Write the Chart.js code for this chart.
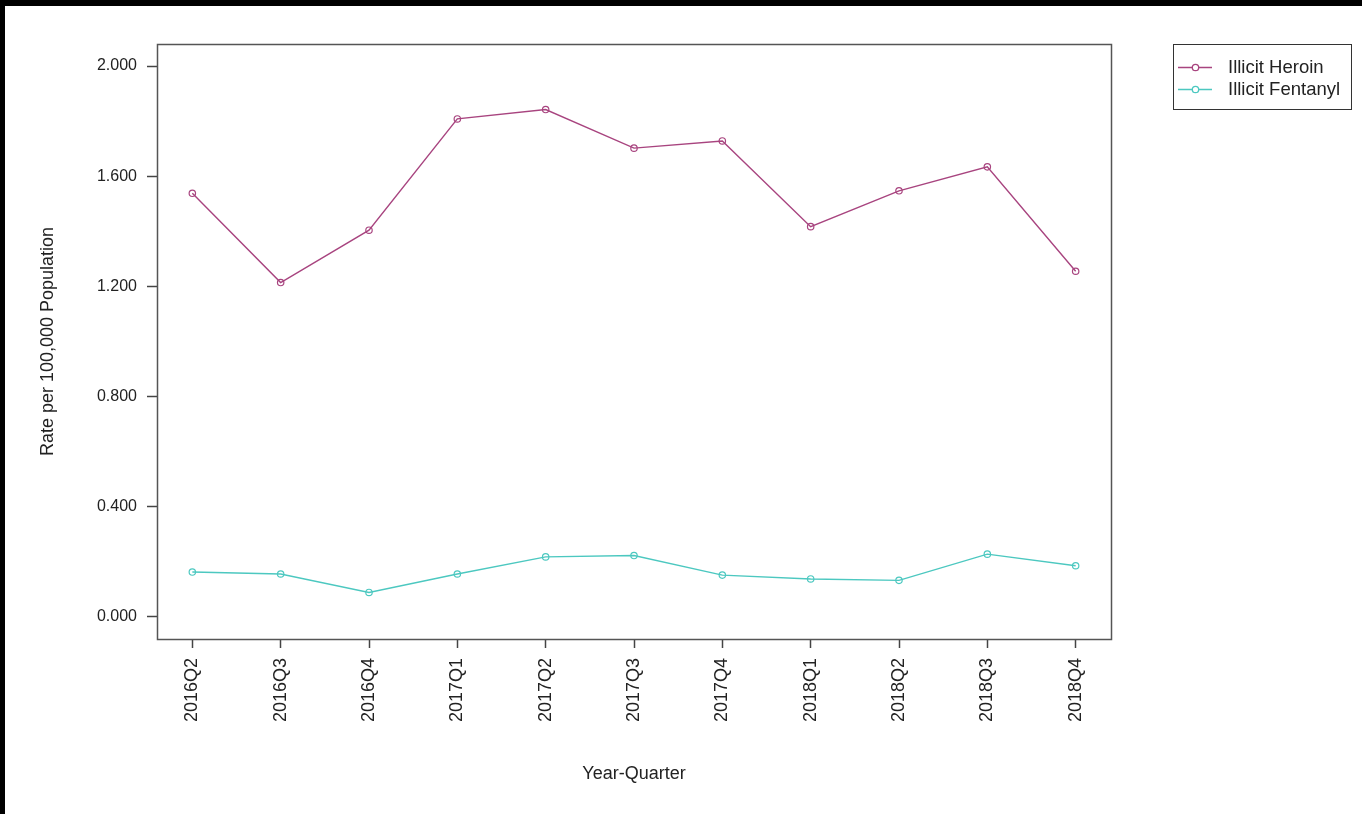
<!DOCTYPE html>
<html>
<head>
<meta charset="utf-8">
<script src="https://cdn.jsdelivr.net/npm/chart.js@4"></script>
<style>
  html, body { margin: 0; padding: 0; background: #fff; }
  #wrap { position: absolute; left: 0; top: 0; width: 1362px; height: 814px; }
</style>
</head>
<body>
<div id="wrap"><canvas id="c" width="1362" height="814"></canvas></div>
<script>
// ---- data ----
const categories = ["2016Q2","2016Q3","2016Q4","2017Q1","2017Q2","2017Q3","2017Q4","2018Q1","2018Q2","2018Q3","2018Q4"];
const heroin   = [1.538, 1.214, 1.404, 1.808, 1.842, 1.702, 1.728, 1.417, 1.547, 1.634, 1.255];
const fentanyl = [0.163, 0.156, 0.089, 0.156, 0.218, 0.223, 0.152, 0.138, 0.133, 0.228, 0.186];
const yTicks   = [0, 0.4, 0.8, 1.2, 1.6, 2.0];
const seriesNames = ["Illicit Heroin", "Illicit Fentanyl"];

const heroinColor = '#a8447f';
const fentColor = '#4cc8c0';
const FONT = '"Liberation Sans", Arial, sans-serif';

const toXY = arr => arr.map((v, i) => ({x: i, y: v}));

const framePlugin = {
  id: 'frame',
  beforeDraw(chart) {
    const ctx = chart.ctx;
    ctx.save();
    ctx.fillStyle = '#fff';
    ctx.fillRect(0, 0, chart.width, chart.height);
    ctx.fillStyle = '#000';
    ctx.fillRect(0, 0, chart.width, 6);
    ctx.fillRect(0, 0, 5, chart.height);
    ctx.restore();
  },
  afterDraw(chart) {
    const ctx = chart.ctx;
    const a = chart.chartArea;
    ctx.save();
    ctx.strokeStyle = '#555';
    ctx.lineWidth = 1.5;
    ctx.strokeRect(Math.round(a.left) + 0.5, Math.round(a.top) + 0.5, Math.round(a.right - a.left), Math.round(a.bottom - a.top));
    // legend
    const lx = 1173, ly = 44, lw = 178, lh = 65;
    ctx.strokeStyle = '#333';
    ctx.lineWidth = 1;
    ctx.strokeRect(lx + 0.5, ly + 0.5, lw, lh);
    const rows = [ly + 24, ly + 46];
    const cols = [heroinColor, fentColor];
    chart.data.datasets.forEach((ds, i) => {
      const y = rows[i] - 0.5;
      ctx.strokeStyle = cols[i];
      ctx.lineWidth = 1.3;
      ctx.beginPath();
      ctx.moveTo(1178, y); ctx.lineTo(1212, y);
      ctx.stroke();
      ctx.fillStyle = '#fff';
      ctx.beginPath();
      ctx.arc(1195.5, y, 3.2, 0, Math.PI * 2);
      ctx.fill();
      ctx.stroke();
      ctx.fillStyle = '#222';
      ctx.font = '18.5px ' + FONT;
      ctx.textBaseline = 'middle';
      ctx.textAlign = 'left';
      ctx.fillText(ds.label, 1228, rows[i]);
    });
    ctx.restore();
  }
};

new Chart(document.getElementById('c'), {
  type: 'line',
  data: {
    datasets: [
      { label: seriesNames[0], data: toXY(heroin), borderColor: heroinColor, backgroundColor: '#fff',
        borderWidth: 1.4, pointRadius: 3.2, pointBorderWidth: 1.2, pointBackgroundColor: 'rgba(255,255,255,0)', tension: 0 },
      { label: seriesNames[1], data: toXY(fentanyl), borderColor: fentColor, backgroundColor: '#fff',
        borderWidth: 1.4, pointRadius: 3.2, pointBorderWidth: 1.2, pointBackgroundColor: 'rgba(255,255,255,0)', tension: 0 }
    ]
  },
  options: {
    responsive: false,
    animation: false,
    devicePixelRatio: 1,
    layout: { padding: { left: 0, top: 44, right: 251, bottom: 0 } },
    plugins: { legend: { display: false }, tooltip: { enabled: false } },
    scales: {
      x: {
        type: 'linear',
        min: -0.4, max: 10.4,
        afterBuildTicks: s => { s.ticks = categories.map((c, i) => ({value: i})); },
        afterFit: s => { s.height = 175; },
        ticks: {
          autoSkip: false, minRotation: 90, maxRotation: 90, padding: 10,
          color: '#222', font: { family: FONT, size: 18 },
          callback: (v) => categories[v]
        },
        grid: { display: true, drawOnChartArea: false, drawTicks: true, tickLength: 9, color: '#444', tickWidth: 1.5 },
        border: { display: false },
        title: { display: true, text: 'Year-Quarter', color: '#222', font: { family: FONT, size: 18 }, padding: { top: 0, bottom: 29 } }
      },
      y: {
        type: 'linear',
        min: -0.08, max: 2.08,
        afterBuildTicks: s => { s.ticks = yTicks.map(v => ({value: v})); },
        afterFit: s => { s.width = 157; },
        ticks: {
          padding: 10, color: '#222', font: { family: FONT, size: 16 },
          callback: v => Number(v).toFixed(3)
        },
        grid: { display: true, drawOnChartArea: false, drawTicks: true, tickLength: 10, color: '#444', tickWidth: 1.5 },
        border: { display: false },
        title: { display: true, text: 'Rate per 100,000 Population', color: '#222', font: { family: FONT, size: 18 }, padding: { top: 37, bottom: 0 } }
      }
    }
  },
  plugins: [framePlugin]
});
</script>
</body>
</html>
